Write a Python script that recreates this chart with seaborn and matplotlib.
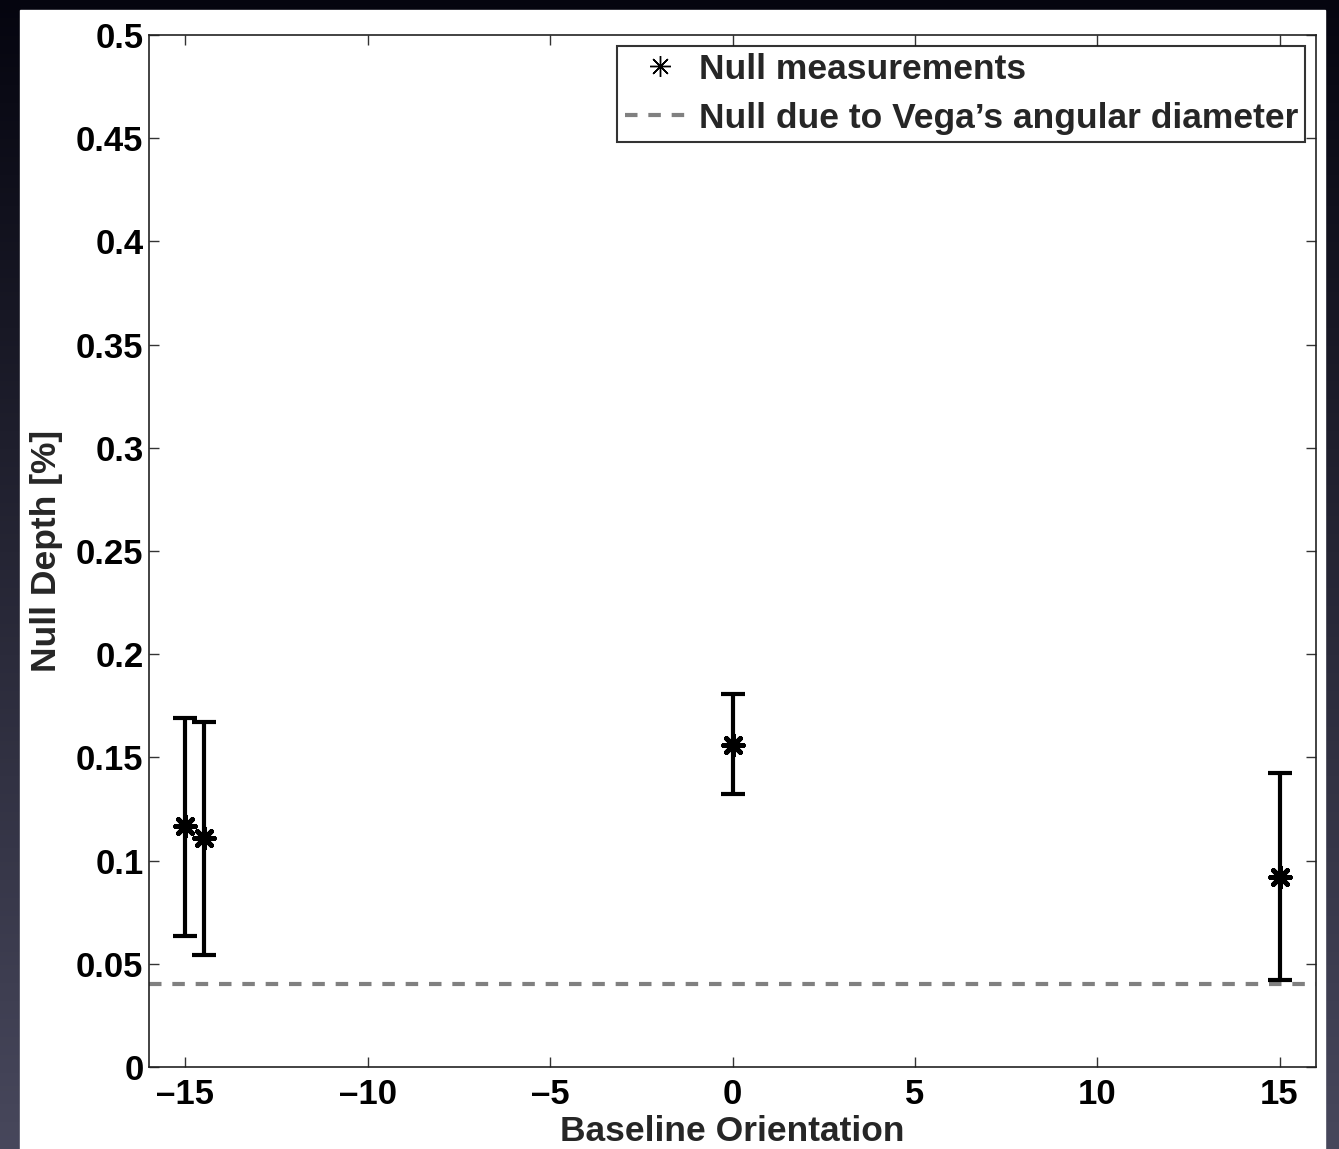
import numpy as np
import pandas as pd
import matplotlib
matplotlib.use("Agg")
import matplotlib.pyplot as plt
import seaborn as sns
from matplotlib.lines import Line2D
from matplotlib.patches import Rectangle

# ---- data ----
orientation = [-15.0, -14.5, 0.0, 15.0]
null_depth = [0.117, 0.111, 0.156, 0.092]
null_lower = [0.0635, 0.0543, 0.1323, 0.0421]
null_upper = [0.169, 0.167, 0.1807, 0.1424]
vega_null = 0.040
x_ticks = [-15, -10, -5, 0, 5, 10, 15]
y_ticks = [0, 0.05, 0.1, 0.15, 0.2, 0.25, 0.3, 0.35, 0.4, 0.45, 0.5]
y_tick_labels = ["0", "0.05", "0.1", "0.15", "0.2", "0.25", "0.3", "0.35", "0.4", "0.45", "0.5"]
legend_labels = ["Null measurements", "Null due to Vega\u2019s angular diameter"]
x_label = "Baseline Orientation"
y_label = "Null Depth [%]"

df = pd.DataFrame({"orientation": orientation, "depth": null_depth,
                   "lower": null_lower, "upper": null_upper})

sns.set_theme(style="ticks")
plt.rcParams["font.family"] = ["Liberation Sans", "DejaVu Sans"]
plt.rcParams["font.weight"] = "bold"

W, H = 1339, 1149
fig = plt.figure(figsize=(W / 100, H / 100), dpi=100)

# dark gradient background
bg = fig.add_axes([0, 0, 1, 1], zorder=-10)
grad = np.linspace(0, 1, 256)[:, None] * np.ones((1, 16))
top = np.array([0.02, 0.02, 0.06])
bot = np.array([0.28, 0.28, 0.36])
img = top[None, None, :] * (1 - grad[..., None]) + bot[None, None, :] * grad[..., None]
bg.imshow(img, aspect="auto", extent=[0, 1, 1, 0])
bg.add_patch(Rectangle((20 / W, 0), (1325 - 20) / W, 1 - 10 / H, color="white",
                       transform=bg.transAxes))
bg.set_xlim(0, 1)
bg.set_ylim(1, 0)
bg.axis("off")

ax = fig.add_axes([149 / W, 1 - 1067 / H, (1316 - 149) / W, (1067 - 35) / H])
ax.set_facecolor("white")

# dashed Vega line
ax.axhline(vega_null, color="#808080", lw=3, dashes=(3, 2.6), zorder=1)

# error bars
yerr = np.vstack([df["depth"] - df["lower"], df["upper"] - df["depth"]])
ax.errorbar(df["orientation"], df["depth"], yerr=yerr, fmt="none", ecolor="black",
            elinewidth=3.0, capsize=8.5, capthick=3.0, zorder=2)

# markers
sns.scatterplot(data=df, x="orientation", y="depth", marker=(8, 2, 0), s=200,
                color="black", linewidth=3.5, ax=ax, zorder=3, legend=False)

FS = 25
ax.set_xlim(-16, 16)
ax.set_ylim(0, 0.5)
ax.set_xticks(x_ticks)
ax.set_xticklabels([str(t).replace("-", "\u2013") for t in x_ticks])
ax.set_yticks(y_ticks)
ax.set_yticklabels(y_tick_labels)
ax.tick_params(direction="in", length=7, width=1, colors="#333333", labelcolor="black",
               labelsize=FS, top=True, right=True)
ax.tick_params(axis="x", pad=8)
ax.tick_params(axis="y", pad=4)
for lab in ax.get_xticklabels() + ax.get_yticklabels():
    lab.set_fontweight("bold")
for s in ax.spines.values():
    s.set_visible(True)
    s.set_color("#222222")
    s.set_linewidth(1.2)

ax.set_xlabel(x_label, fontsize=25.5, fontweight="bold", labelpad=3)
ax.set_ylabel(y_label, fontsize=25.5, fontweight="bold", labelpad=9)

handles = [
    Line2D([], [], linestyle="none", marker=(8, 2, 0), markersize=15,
           markeredgewidth=1.0, color="black"),
    Line2D([], [], color="#808080", lw=3, dashes=(3, 2.6)),
]
leg = ax.legend(handles, legend_labels, loc="upper right",
                frameon=True, fancybox=False, handlelength=2.0, handletextpad=0.1,
                borderpad=0.2, labelspacing=0.45, borderaxespad=0.3,
                prop={"weight": "bold", "size": 25.5})
leg.get_frame().set_edgecolor("black")
leg.get_frame().set_linewidth(1.5)

fig.savefig("out.png", dpi=100)
